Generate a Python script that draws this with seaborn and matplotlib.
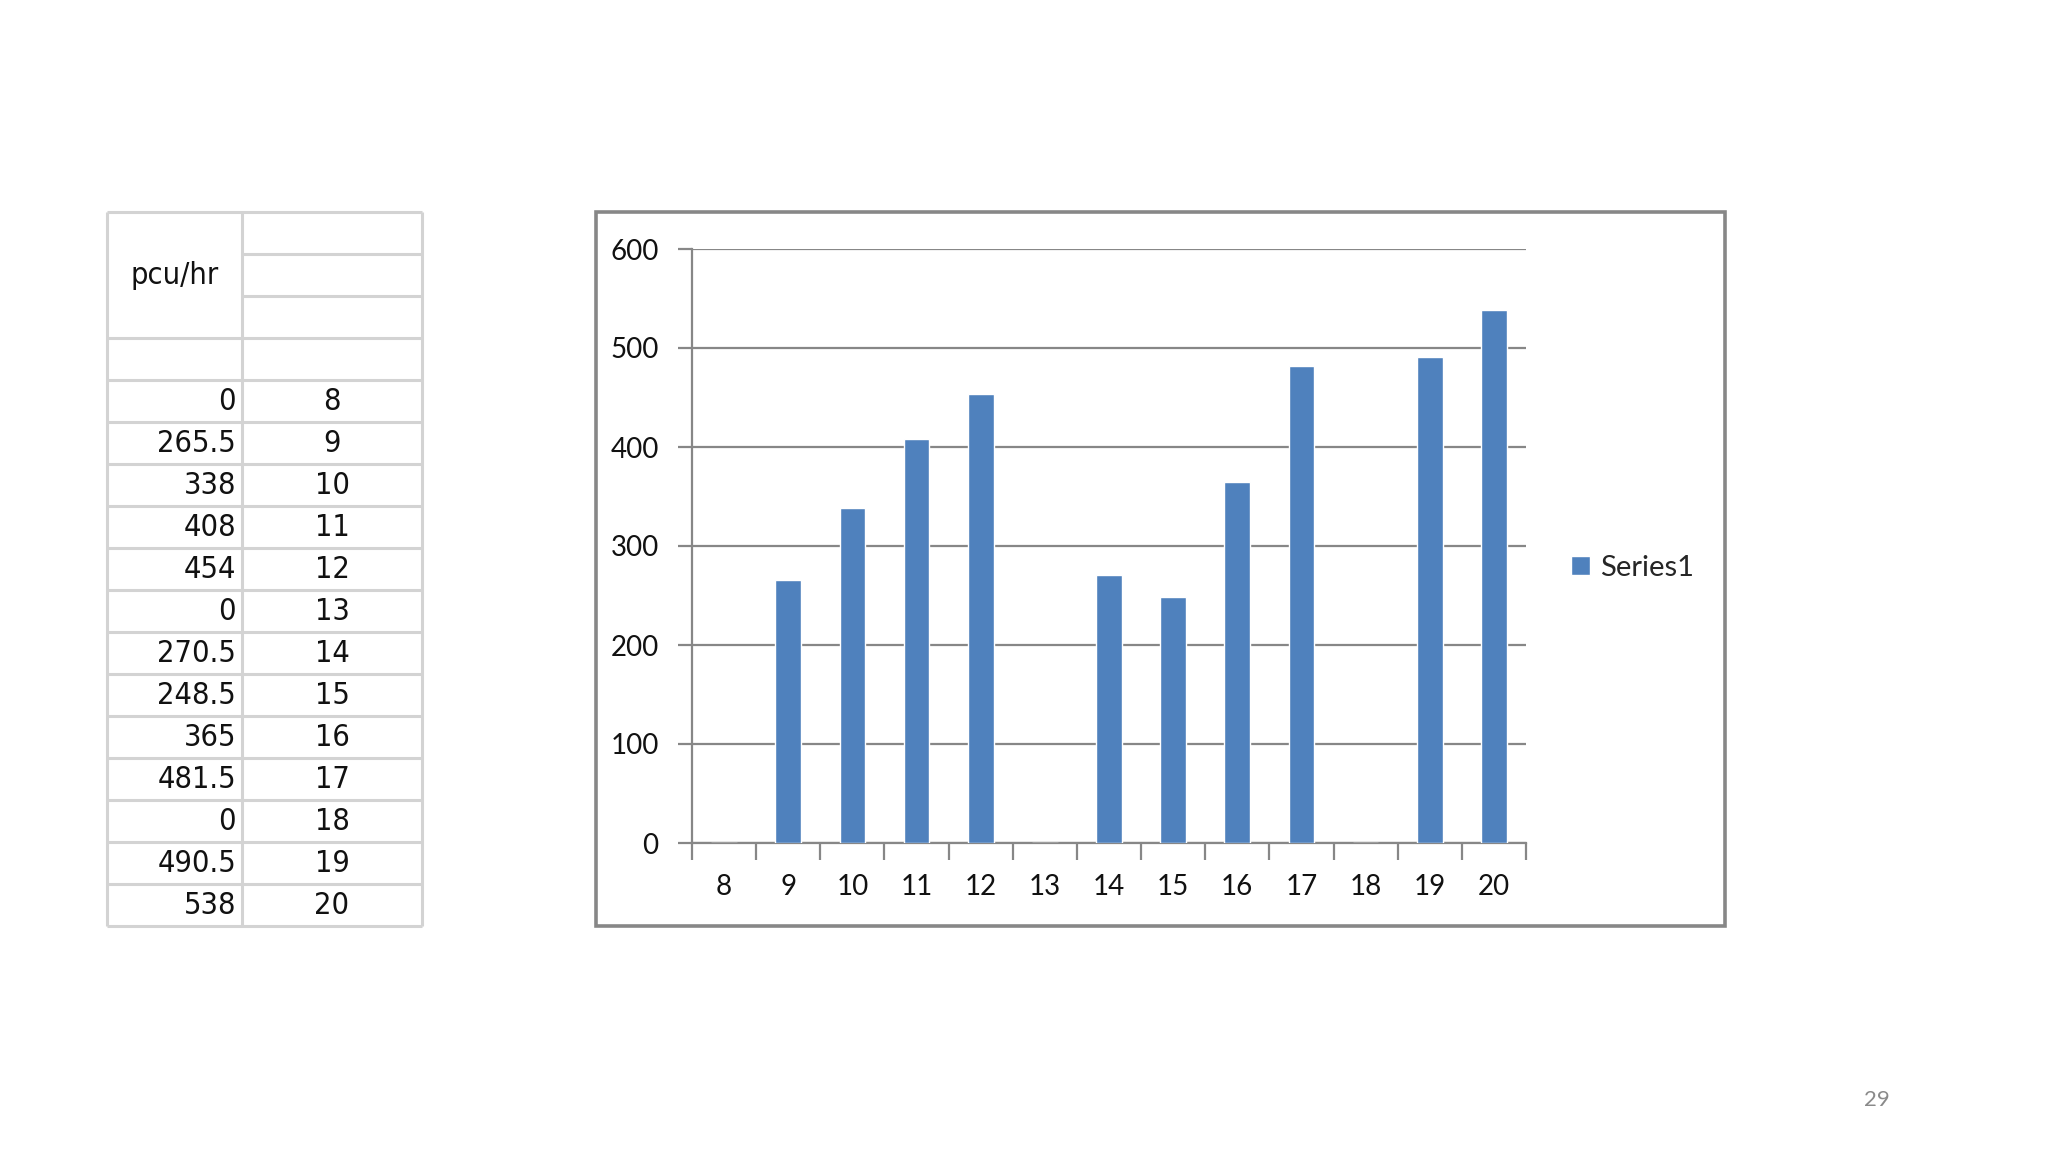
import matplotlib
matplotlib.use("Agg")
import matplotlib.pyplot as plt
from matplotlib.patches import Rectangle
import seaborn as sns
import pandas as pd

# data
hours = [8, 9, 10, 11, 12, 13, 14, 15, 16, 17, 18, 19, 20]
pcu_hr = [0, 265.5, 338, 408, 454, 0, 270.5, 248.5, 365, 481.5, 0, 490.5, 538]
y_ticks = [0, 100, 200, 300, 400, 500, 600]
series_name = "Series1"
table_header = "pcu/hr"
page_no = "29"

df = pd.DataFrame({"hour": [str(h) for h in hours], "pcu": pcu_hr})

sns.set_style("white")
plt.rcParams["font.family"] = ["Lato", "DejaVu Sans"]

W, H = 2048, 1152
fig = plt.figure(figsize=(W / 100, H / 100), dpi=100)

# overlay axes in pixel coords: table, chart frame, page number
ov = fig.add_axes([0, 0, 1, 1])
ov.set_xlim(0, W)
ov.set_ylim(H, 0)
ov.axis("off")

line_c = "#d3d3d3"
x0, xm, x1 = 107, 242, 422
top, rh = 212, 42
n_rows = 4 + len(hours)          # 3 header rows + 1 empty + data
bottom = top + rh * n_rows
for x in (x0, xm, x1):
    ov.plot([x, x], [top, bottom], color=line_c, lw=2.2, solid_capstyle="butt")
for i in range(n_rows + 1):
    y = top + rh * i
    left = xm if i in (1, 2) else x0
    ov.plot([left, x1], [y, y], color=line_c, lw=2.2, solid_capstyle="butt")

tbl_font = dict(family=["Liberation Sans Narrow", "DejaVu Sans"], fontstretch="condensed",
                fontsize=22, color="#111111")
ov.text((x0 + xm) / 2, top + rh * 1.5, table_header, ha="center", va="center", **tbl_font)
for k, (h, v) in enumerate(zip(hours, pcu_hr)):
    yc = top + rh * (4 + k + 0.5) + 1
    ov.text(xm - 6, yc, f"{v:g}", ha="right", va="center", **tbl_font)
    ov.text((xm + x1) / 2, yc, str(h), ha="center", va="center", **tbl_font)

ov.add_patch(Rectangle((596, 212), 1129, 714, fill=False, ec="#878787", lw=2.6))
ov.text(1877, 1100, page_no, ha="center", va="center", fontsize=16, color="#8a8a8a")

# bar chart
ax = fig.add_axes([692 / W, 1 - 843 / H, (1526 - 692) / W, (843 - 249) / H])
ax.patch.set_alpha(0)
sns.barplot(data=df, x="hour", y="pcu", color="#4f81bd", saturation=1, width=0.4,
            label=series_name, ax=ax, zorder=3)
ax.set_xlim(-0.5, len(hours) - 0.5)
ax.set_ylim(0, 600)
ax.set_yticks(y_ticks)
ax.set_xlabel("")
ax.set_ylabel("")
ax.yaxis.grid(True, color="#878787", lw=1.6)
ax.set_axisbelow(True)
for s in ("top", "right"):
    ax.spines[s].set_visible(False)
for s in ("left", "bottom"):
    ax.spines[s].set_color("#878787")
    ax.spines[s].set_linewidth(1.6)
ax.set_xticks([i - 0.5 for i in range(len(hours) + 1)], minor=True)
ax.tick_params(axis="x", which="major", length=0, pad=22, labelsize=20, labelcolor="#111111")
ax.tick_params(axis="x", which="minor", length=12, width=1.6, color="#878787", direction="out")
ax.tick_params(axis="y", length=10, width=1.6, color="#878787", direction="out",
               pad=14, labelsize=20, labelcolor="#111111")
ax.tick_params(left=True, bottom=True)
ax.xaxis.set_tick_params(which="minor", bottom=True)

ax.legend(loc="center left", bbox_to_anchor=(1571 / W, 1 - 568 / H),
          bbox_transform=fig.transFigure, frameon=False, fontsize=21,
          handlelength=0.65, handleheight=0.65, handletextpad=0.35,
          borderpad=0, borderaxespad=0)

fig.savefig("out.png", dpi=100, facecolor="white")
